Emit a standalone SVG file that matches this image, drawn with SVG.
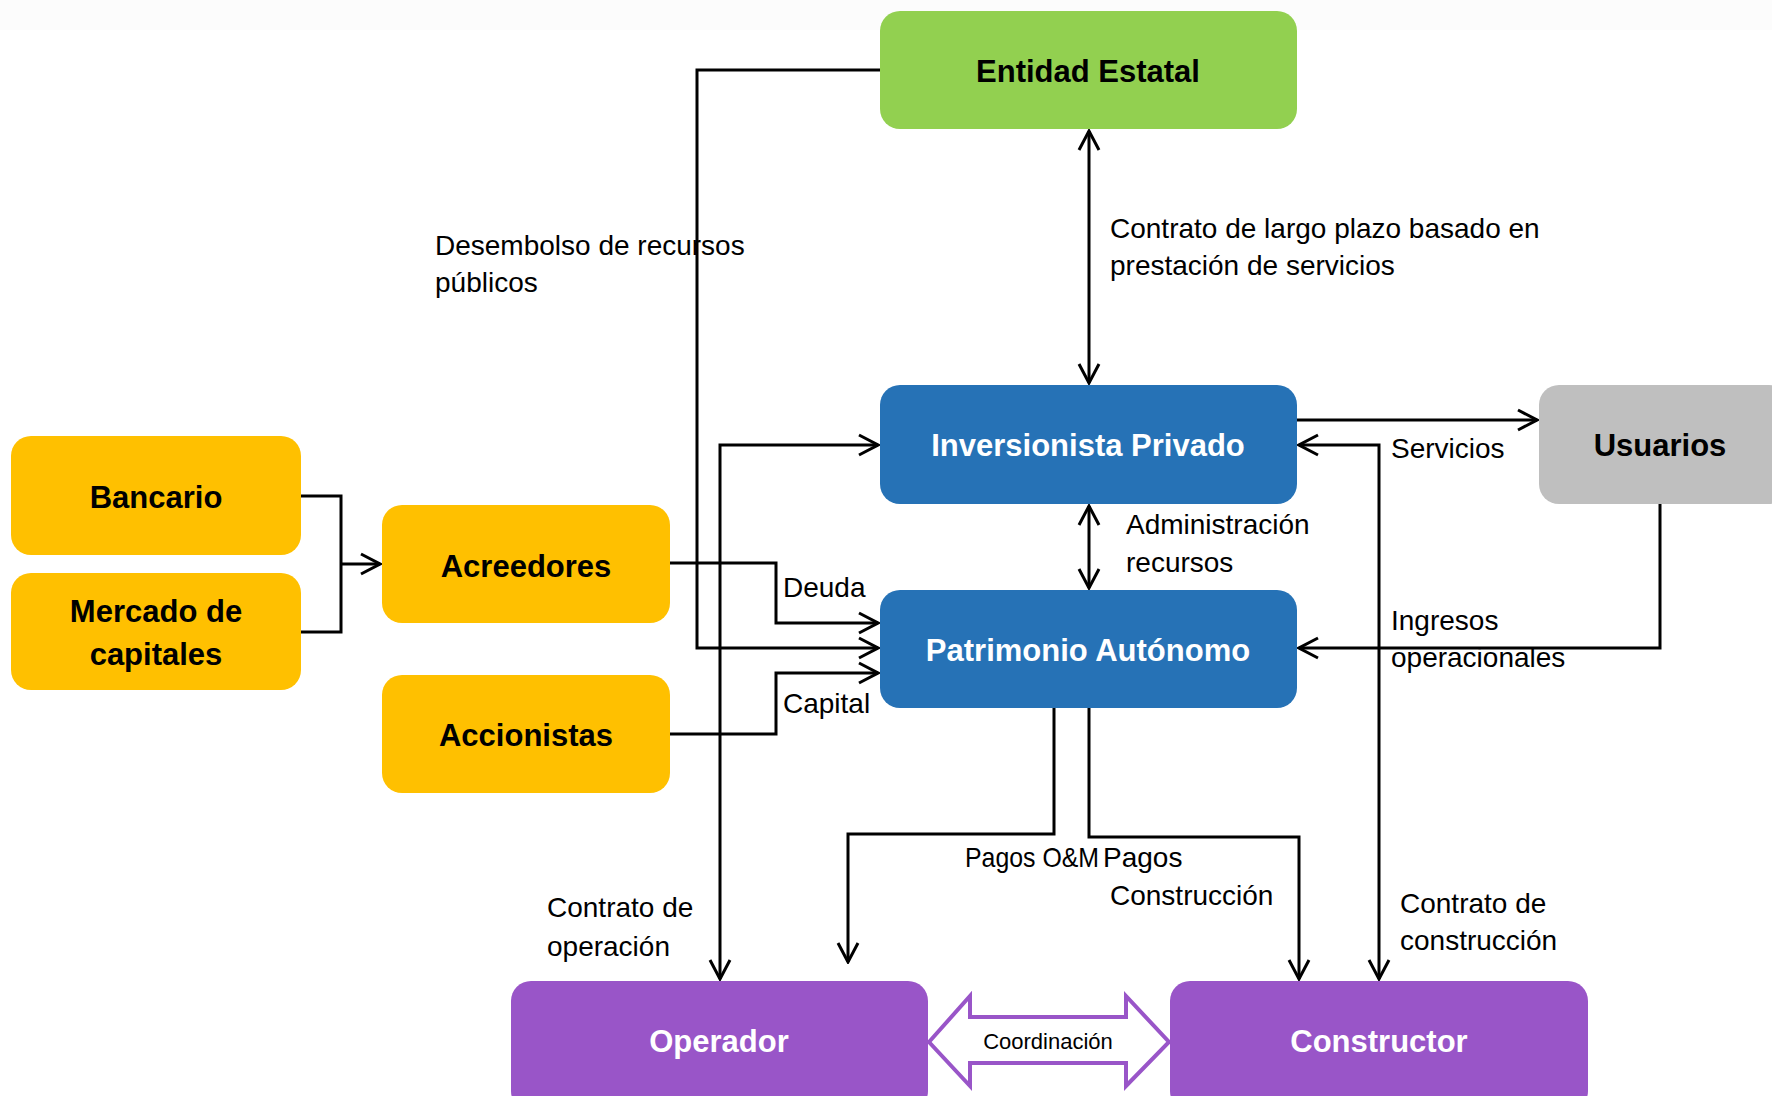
<svg xmlns="http://www.w3.org/2000/svg" width="1772" height="1096" viewBox="0 0 1772 1096">
<style>
.box{stroke:none}
.g{fill:#92d050}
.b{fill:#2672b6}
.y{fill:#ffc000}
.gr{fill:#bfbfbf}
.p{fill:#9955c8}
.t{font-family:"Liberation Sans",Arial,sans-serif;font-weight:bold;font-size:31px;text-anchor:middle;fill:#000}
.tw{fill:#fff}
.l{font-family:"Liberation Sans",Arial,sans-serif;font-size:28px;fill:#000}
.c{fill:none;stroke:#000;stroke-width:3;stroke-linejoin:miter}
</style>
<defs>
<marker id="arr" viewBox="-22 -13 24 26" refX="0" refY="0" markerWidth="24" markerHeight="26" markerUnits="userSpaceOnUse" orient="auto-start-reverse">
<path d="M-19,-10 L0,0 L-19,10" fill="none" stroke="#000" stroke-width="3"/>
</marker>
</defs>
<rect x="0" y="0" width="1772" height="1096" fill="#fff"/>
<rect x="0" y="0" width="1772" height="30" fill="#fcfcfc"/>

<g id="connectors">
<polyline class="c" points="880,70 697,70 697,648 878,648" marker-end="url(#arr)"/>
<polyline class="c" points="878,445 720,445 720,979" marker-start="url(#arr)" marker-end="url(#arr)"/>
<polyline class="c" points="670,563 776,563 776,623 878,623" marker-end="url(#arr)"/>
<polyline class="c" points="670,734 776,734 776,673 878,673" marker-end="url(#arr)"/>
<polyline class="c" points="301,496 341,496 341,632 301,632"/>
<line class="c" x1="341" y1="564" x2="380" y2="564" marker-end="url(#arr)"/>
<line class="c" x1="1089" y1="131" x2="1089" y2="383" marker-start="url(#arr)" marker-end="url(#arr)"/>
<line class="c" x1="1089" y1="506" x2="1089" y2="588" marker-start="url(#arr)" marker-end="url(#arr)"/>
<line class="c" x1="1297" y1="420" x2="1537" y2="420" marker-end="url(#arr)"/>
<polyline class="c" points="1299,445 1379,445 1379,979" marker-start="url(#arr)" marker-end="url(#arr)"/>
<polyline class="c" points="1660,504 1660,648 1299,648" marker-end="url(#arr)"/>
<polyline class="c" points="1054,708 1054,834 848,834 848,962" marker-end="url(#arr)"/>
<polyline class="c" points="1089,708 1089,837 1299,837 1299,979" marker-end="url(#arr)"/>
<polygon points="929,1042 970,996 970,1017 1126,1017 1126,996 1169,1042 1126,1086 1126,1063 970,1063 970,1086" fill="#fff" stroke="#9955c8" stroke-width="4"/>
<text x="1048" y="1049" font-family="Liberation Sans,Arial,sans-serif" font-size="22" text-anchor="middle" fill="#000">Coordinación</text>
<text class="l" x="435" y="255">Desembolso de recursos</text>
<text class="l" x="435" y="292">públicos</text>
<text class="l" x="1110" y="238">Contrato de largo plazo basado en</text>
<text class="l" x="1110" y="275">prestación de servicios</text>
<text class="l" x="1391" y="458">Servicios</text>
<text class="l" x="1126" y="534">Administración</text>
<text class="l" x="1126" y="572">recursos</text>
<text class="l" x="783" y="597">Deuda</text>
<text class="l" x="783" y="713">Capital</text>
<text class="l" x="1391" y="630">Ingresos</text>
<text class="l" x="1391" y="667">operacionales</text>
<text class="l" x="965" y="867" textLength="134" lengthAdjust="spacingAndGlyphs">Pagos O&amp;M</text>
<text class="l" x="1103" y="867">Pagos</text>
<text class="l" x="1110" y="905">Construcción</text>
<text class="l" x="547" y="917">Contrato de</text>
<text class="l" x="547" y="956">operación</text>
<text class="l" x="1400" y="913">Contrato de</text>
<text class="l" x="1400" y="950">construcción</text>
</g>

<g id="entidad-estatal">
<rect class="box g" x="880" y="11" width="417" height="118" rx="20"/>
<text class="t" x="1088" y="82">Entidad Estatal</text>
</g>
<g id="inversionista-privado">
<rect class="box b" x="880" y="385" width="417" height="119" rx="20"/>
<text class="t tw" x="1088" y="456">Inversionista Privado</text>
</g>
<g id="patrimonio-autonomo">
<rect class="box b" x="880" y="590" width="417" height="118" rx="20"/>
<text class="t tw" x="1088" y="661">Patrimonio Autónomo</text>
</g>
<g id="usuarios">
<rect class="box gr" x="1539" y="385" width="250" height="119" rx="20"/>
<text class="t" x="1660" y="456">Usuarios</text>
</g>
<g id="bancario">
<rect class="box y" x="11" y="436" width="290" height="119" rx="20"/>
<text class="t" x="156" y="508">Bancario</text>
</g>
<g id="mercado-de-capitales">
<rect class="box y" x="11" y="573" width="290" height="117" rx="20"/>
<text class="t" x="156" y="622">Mercado de</text>
<text class="t" x="156" y="665">capitales</text>
</g>
<g id="acreedores">
<rect class="box y" x="382" y="505" width="288" height="118" rx="20"/>
<text class="t" x="526" y="577">Acreedores</text>
</g>
<g id="accionistas">
<rect class="box y" x="382" y="675" width="288" height="118" rx="20"/>
<text class="t" x="526" y="746">Accionistas</text>
</g>
<g id="operador">
<rect class="box p" x="511" y="981" width="417" height="130" rx="20"/>
<text class="t tw" x="719" y="1052">Operador</text>
</g>
<g id="constructor">
<rect class="box p" x="1170" y="981" width="418" height="130" rx="20"/>
<text class="t tw" x="1379" y="1052">Constructor</text>
</g>
</svg>
